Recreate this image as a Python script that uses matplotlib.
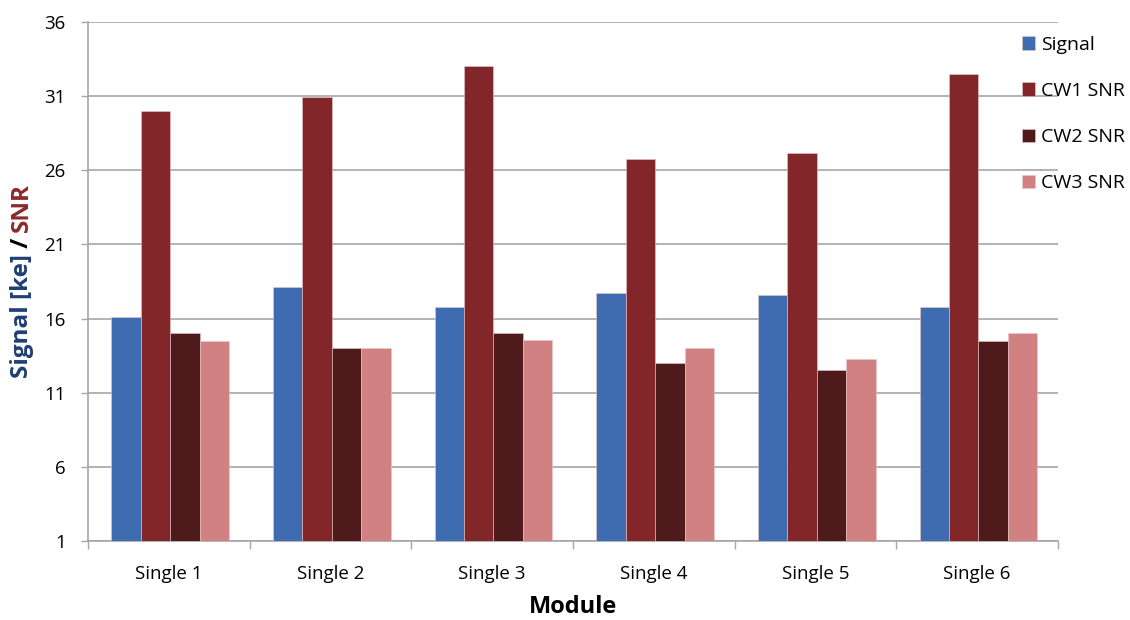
"""Grouped bar chart: signal and SNR per module."""

import matplotlib
matplotlib.use("Agg")
import matplotlib.pyplot as plt
import numpy as np

plt.rcParams["font.family"] = ["Open Sans", "DejaVu Sans"]

modules = ["Single 1", "Single 2", "Single 3", "Single 4", "Single 5", "Single 6"]
series_names = ["Signal", "CW1 SNR", "CW2 SNR", "CW3 SNR"]
signal = [16.1, 18.1, 16.8, 17.7, 17.6, 16.8]
cw1_snr = [30.0, 30.95, 33.05, 26.75, 27.15, 32.5]
cw2_snr = [15.05, 14.0, 15.05, 13.0, 12.55, 14.5]
cw3_snr = [14.5, 14.0, 14.55, 14.0, 13.3, 15.05]
y_ticks = [1, 6, 11, 16, 21, 26, 31, 36]

colors = ["#3F6CB1", "#82262A", "#4E1A1B", "#D18181"]
grid_col = "#A6A6A6"

fig = plt.figure(figsize=(11.3, 6.2), dpi=100)
ax = fig.add_axes([88 / 1130, 1 - 541 / 620, (1058 - 88) / 1130, (541 - 22) / 620])

x = np.arange(len(modules))
width = 0.182
values = [signal, cw1_snr, cw2_snr, cw3_snr]
for i, (name, vals) in enumerate(zip(series_names, values)):
    ax.bar(x + (i - 1.5) * width + 0.008, np.array(vals) - 1, bottom=1, width=width,
           color=colors[i], edgecolor="#E8C8C8", linewidth=0.4, label=name, zorder=3)

ax.set_xlim(-0.5, len(modules) - 0.5)
ax.set_ylim(1, 36)
ax.set_yticks(y_ticks)
ax.set_yticklabels([str(t) for t in y_ticks], fontsize=13.5)
ax.yaxis.grid(True, color=grid_col, linewidth=1.2, zorder=0)

ax.set_xticks(x)
ax.set_xticklabels(modules, fontsize=13.5)
ax.set_xticks(np.arange(len(modules) + 1) - 0.5, minor=True)
ax.tick_params(axis="x", which="major", length=0, pad=17)
ax.tick_params(axis="x", which="minor", length=6, color=grid_col, width=1)
ax.tick_params(axis="y", length=5, color=grid_col, width=1, pad=11)

for side in ["top", "right"]:
    ax.spines[side].set_visible(False)
for side in ["left", "bottom"]:
    ax.spines[side].set_color(grid_col)
    ax.spines[side].set_linewidth(1.2)

ax.set_xlabel("Module", fontsize=17, fontweight="bold", labelpad=9)

# multi-coloured y label
t1 = fig.text(22 / 1130, 1 - 378 / 620, "Signal [ke]", rotation=90, ha="center",
              va="bottom", fontsize=17.5, fontweight="bold", color="#1F3F75")
t2 = ax.annotate(" / ", xy=(0.5, 1.0), xycoords=t1, rotation=90, ha="center",
                 va="bottom", fontsize=17.5, fontweight="bold", color="black",
                 annotation_clip=False)
ax.annotate("SNR", xy=(0.5, 1.0), xycoords=t2, rotation=90, ha="center",
            va="bottom", fontsize=17.5, fontweight="bold", color="#8B2A2D",
            annotation_clip=False)

ax.legend(loc="upper left", bbox_to_anchor=(1014 / 1130, 1 - 28 / 620),
          bbox_transform=fig.transFigure, frameon=False, fontsize=14,
          handlelength=0.7, handleheight=0.7, handletextpad=0.3,
          labelspacing=1.45, borderaxespad=0)

fig.savefig("out.png", dpi=100)
